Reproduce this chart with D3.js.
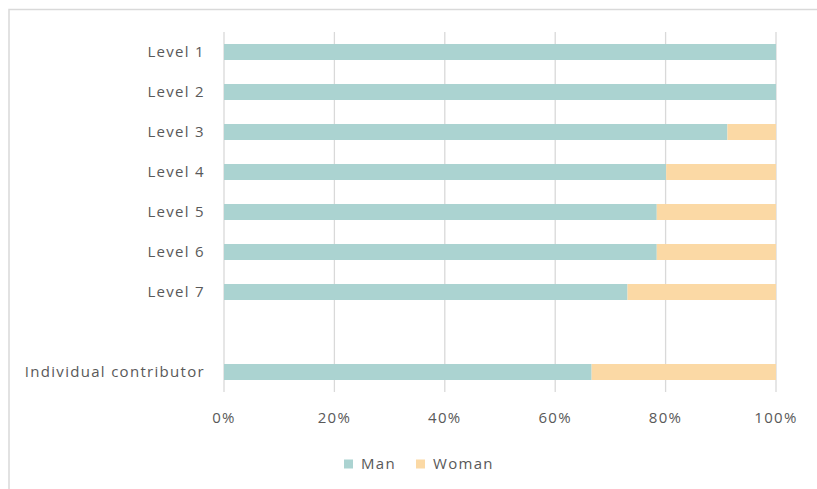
<!DOCTYPE html>
<html>
<head>
<meta charset="utf-8">
<script src="https://cdn.jsdelivr.net/npm/d3@7"></script>
<style>
  body { margin: 0; background: #fff; }
  text { font-family: "Open Sans", sans-serif; fill: #595959; letter-spacing: 1.3px; }
</style>
</head>
<body>
<script>
var levels = ["Level 1", "Level 2", "Level 3", "Level 4", "Level 5", "Level 6", "Level 7", "", "Individual contributor"];
var man   = [1.000, 1.000, 0.912, 0.801, 0.784, 0.784, 0.731, null, 0.666];
var woman = [0.000, 0.000, 0.088, 0.199, 0.216, 0.216, 0.269, null, 0.334];
var series = ["Man", "Woman"];
var colors = ["#abd3d1", "#fbd9a5"];
var ticks = [0, 0.2, 0.4, 0.6, 0.8, 1];

var width = 817, height = 489;

var svg = d3.select("body")
    .append("svg")
    .attr("width", width)
    .attr("height", height);

// chart frame
svg.append("rect")
    .attr("x", 9).attr("y", 9.5)
    .attr("width", 830).attr("height", 500)
    .attr("fill", "none")
    .attr("stroke", "#d9d9d9")
    .attr("stroke-width", 1.5);

var x = d3.scaleLinear().domain([0, 1]).range([224, 776]);
var y = d3.scaleBand().domain(d3.range(levels.length)).range([32, 392]).paddingInner(0.6).paddingOuter(0.3);

// gridlines
svg.append("g").selectAll("line").data(ticks)
    .enter().append("line")
    .attr("x1", function(d){ return x(d); })
    .attr("x2", function(d){ return x(d); })
    .attr("y1", 32).attr("y2", 392)
    .attr("stroke", "#d9d9d9")
    .attr("stroke-width", 1.3);

var rows = levels.map(function(name, i){
    return { i: i, vals: [man[i], woman[i]] };
}).filter(function(r){ return r.vals[0] != null; });

var stack = [];
rows.forEach(function(r){
    var acc = 0;
    r.vals.forEach(function(v, k){
        stack.push({ i: r.i, k: k, x0: acc, x1: acc + v });
        acc += v;
    });
});

svg.append("g").selectAll("rect").data(stack.filter(function(d){ return d.x1 > d.x0; }))
    .enter().append("rect")
    .attr("x", function(d){ return x(d.x0); })
    .attr("width", function(d){ return x(d.x1) - x(d.x0); })
    .attr("y", function(d){ return y(d.i); })
    .attr("height", y.bandwidth())
    .attr("fill", function(d){ return colors[d.k]; });

// category labels
svg.append("g").selectAll("text").data(levels)
    .enter().append("text")
    .attr("x", 205)
    .attr("y", function(d, i){ return y(i) + y.bandwidth() / 2; })
    .attr("dy", "0.35em")
    .attr("text-anchor", "end")
    .attr("font-size", 15)
    .text(function(d){ return d; });

// tick labels
svg.append("g").selectAll("text").data(ticks)
    .enter().append("text")
    .attr("x", function(d){ return x(d); })
    .attr("y", 418)
    .attr("dy", "0.35em")
    .attr("text-anchor", "middle")
    .attr("font-size", 15)
    .text(function(d){ return d3.format(".0%")(d); });

// legend
var legend = svg.append("g").selectAll("g").data(series)
    .enter().append("g")
    .attr("transform", function(d, i){ return translate(i === 0 ? 344 : 416, 464); });

legend.append("rect")
    .attr("x", 0).attr("y", -4.5)
    .attr("width", 9).attr("height", 9)
    .attr("fill", function(d, i){ return colors[i]; });

legend.append("text")
    .attr("x", 17)
    .attr("dy", "0.35em")
    .attr("font-size", 15)
    .text(function(d){ return d; });

function translate(x, y){
    return "translate(" + x + "," + y + ")";
}
</script>
</body>
</html>
